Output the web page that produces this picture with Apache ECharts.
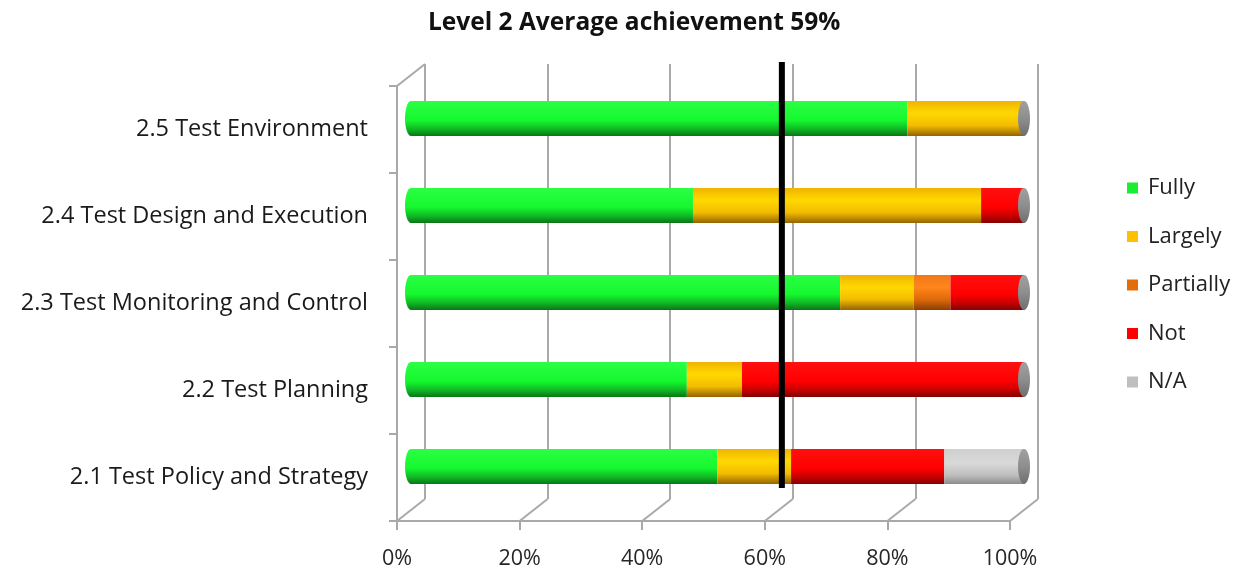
<!DOCTYPE html>
<html>
<head>
<meta charset="utf-8">
<script src="https://cdn.jsdelivr.net/npm/echarts@6/dist/echarts.min.js"></script>
<style>
  html, body { margin: 0; padding: 0; background: #fff; }
  #chart { width: 1247px; height: 570px; }
</style>
</head>
<body>
<div id="chart"></div>
<script>
// ---------- data ----------
const titleText = 'Level 2 Average achievement 59%';
const categories = [
  '2.1 Test Policy and Strategy',
  '2.2 Test Planning',
  '2.3 Test Monitoring and Control',
  '2.4 Test Design and Execution',
  '2.5 Test Environment'
];
const seriesNames = ['Fully', 'Largely', 'Partially', 'Not', 'N/A'];
const fully     = [50, 45, 70, 46, 81];
const largely   = [12,  9, 12, 47, 19];
const partially = [ 0,  0,  6,  0,  0];
const notAch    = [25, 46, 12,  7,  0];
const notApp    = [13,  0,  0,  0,  0];
const xTicks = [0, 20, 40, 60, 80, 100];
const averageLineValue = 60.5;

// ---------- styles ----------
const FONT = '"Open Sans"';
const GRID_COLOR = '#A9A9A9';
const BAR_W = 35;
const DEPTH_X = 28, DEPTH_Y = 22;
const FRONT = { left: 397, top: 86, width: 613, height: 435 };
const MID   = { left: FRONT.left + DEPTH_X / 2, top: FRONT.top - DEPTH_Y / 2, width: 613, height: 435 };
const BACK  = { left: FRONT.left + DEPTH_X, top: FRONT.top - DEPTH_Y, width: 613, height: 435 };

function grad(stops) {
  return { type: 'linear', x: 0, y: 0, x2: 0, y2: 1,
    colorStops: stops.map(s => ({ offset: s[0], color: s[1] })) };
}
const legendColors = ['#19EE33', '#FFC000', '#E46C0A', '#FF0000', '#BFBFBF'];
const barFills = [
  grad([[0, '#2BFF44'], [0.55, '#15F82E'], [0.8, '#10B825'], [1, '#0A7516']]),
  grad([[0, '#EFB400'], [0.35, '#FFD800'], [0.7, '#F2BC00'], [1, '#946400']]),
  grad([[0, '#F07818'], [0.35, '#FF861C'], [0.7, '#DE690A'], [1, '#8A3F05']]),
  grad([[0, '#FF1010'], [0.55, '#FF0000'], [0.8, '#C80000'], [1, '#830000']]),
  grad([[0, '#CFCFCF'], [0.4, '#D9D9D9'], [0.75, '#BEBEBE'], [1, '#8C8C8C']])
];
const capFill = grad([[0, '#A0A0A0'], [0.5, '#8E8E8E'], [1, '#6E6E6E']]);

const valueArrays = [fully, largely, partially, notAch, notApp];
const totals = categories.map((_, i) => valueArrays.reduce((s, a) => s + a[i], 0));

const gridBase = { containLabel: false, outerBoundsMode: 'none' };

const chart = echarts.init(document.getElementById('chart'), null, { renderer: 'canvas' });

const barSeries = seriesNames.map((name, k) => ({
  name, type: 'bar', stack: 'total',
  xAxisIndex: 2, yAxisIndex: 2,
  barWidth: BAR_W,
  itemStyle: { color: barFills[k] },
  emphasis: { disabled: true },
  z: 3,
  data: valueArrays[k]
}));

const option = {
  animation: false,
  backgroundColor: '#ffffff',
  title: {
    text: titleText,
    left: 423, top: 6,
    textStyle: { fontFamily: FONT, fontWeight: 'bold', fontSize: 24.5, color: '#111' }
  },
  legend: {
    orient: 'vertical',
    left: 1122, top: 172,
    itemWidth: 11, itemHeight: 11, itemGap: 26.5,
    icon: 'rect',
    textStyle: { fontFamily: FONT, fontSize: 22, color: '#222', lineHeight: 20, padding: [0, 0, 0, 5] },
    data: seriesNames.map((n, k) => ({ name: n, itemStyle: { color: legendColors[k] } }))
  },
  grid: [
    Object.assign({}, gridBase, BACK),
    Object.assign({}, gridBase, FRONT),
    Object.assign({}, gridBase, MID),
    Object.assign({}, gridBase, { left: MID.left, width: MID.width, top: 62, height: 426 })
  ],
  xAxis: [
    { gridIndex: 0, type: 'value', min: 0, max: 100, interval: 20,
      axisLine: { show: false }, axisTick: { show: false }, axisLabel: { show: false },
      splitLine: { show: true, lineStyle: { color: GRID_COLOR, width: 2 } } },
    { gridIndex: 1, type: 'value', min: 0, max: 100, interval: 20,
      axisLine: { show: true, onZero: false, lineStyle: { color: GRID_COLOR, width: 2 } },
      axisTick: { show: true, length: 9, lineStyle: { color: GRID_COLOR, width: 2 } },
      axisLabel: { show: true, formatter: '{value}%', margin: 27,
        fontFamily: FONT, fontSize: 21.5, color: '#262626' },
      splitLine: { show: false } },
    { gridIndex: 2, type: 'value', min: 0, max: 100, show: false, splitLine: { show: false } },
    { gridIndex: 3, type: 'value', min: 0, max: 100, show: false, splitLine: { show: false } }
  ],
  yAxis: [
    { gridIndex: 0, type: 'category', data: categories, show: false },
    { gridIndex: 1, type: 'category', data: categories,
      axisLine: { show: true, onZero: false, lineStyle: { color: GRID_COLOR, width: 2 } },
      axisTick: { show: true, length: 8, lineStyle: { color: GRID_COLOR, width: 2 } },
      axisLabel: { show: true, margin: 29, fontFamily: FONT, fontSize: 23.5, color: '#1a1a1a' },
      splitLine: { show: false } },
    { gridIndex: 2, type: 'category', data: categories, show: false },
    { gridIndex: 3, type: 'value', min: 0, max: 1, show: false, splitLine: { show: false } }
  ],
  series: [
    // floor / wall diagonals, anchored on the front axis scale
    {
      type: 'custom', xAxisIndex: 1, yAxisIndex: 1, silent: true, z: 1,
      data: xTicks.map(v => [v]),
      renderItem: function (params, api) {
        const cs = params.coordSys;
        const x = api.coord([api.value(0), 0])[0];
        const yb = cs.y + cs.height;
        const st = { stroke: GRID_COLOR, lineWidth: 2 };
        const children = [{ type: 'line', shape: { x1: x, y1: yb, x2: x + DEPTH_X, y2: yb - DEPTH_Y }, style: st }];
        if (api.value(0) === xTicks[0]) {
          children.push({ type: 'line', shape: { x1: cs.x, y1: cs.y, x2: cs.x + DEPTH_X, y2: cs.y - DEPTH_Y }, style: st });
        }
        return { type: 'group', children };
      }
    },
    ...barSeries,
    // cylinder end caps
    {
      type: 'custom', xAxisIndex: 2, yAxisIndex: 2, silent: true, z: 4,
      data: categories.map((c, i) => [totals[i], i]),
      renderItem: function (params, api) {
        const pEnd = api.coord([api.value(0), api.value(1)]);
        const pStart = api.coord([0, api.value(1)]);
        return { type: 'group', children: [
          { type: 'ellipse', shape: { cx: pStart[0], cy: pStart[1], rx: 6, ry: BAR_W / 2 }, style: { fill: barFills[0] } },
          { type: 'ellipse', shape: { cx: pEnd[0], cy: pEnd[1], rx: 6, ry: BAR_W / 2 }, style: { fill: capFill } }
        ]};
      }
    },
    // average line
    {
      type: 'line', xAxisIndex: 3, yAxisIndex: 3, silent: true, z: 6,
      symbol: 'none',
      lineStyle: { color: '#000', width: 6 },
      data: [[averageLineValue, 0], [averageLineValue, 1]]
    }
  ]
};
chart.setOption(option);
</script>
</body>
</html>
